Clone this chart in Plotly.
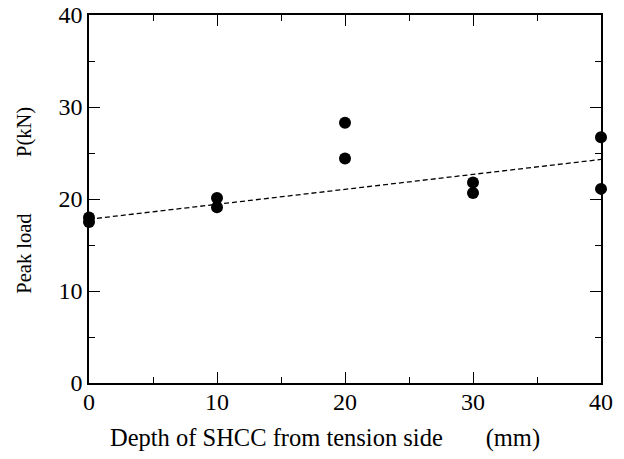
import plotly.graph_objects as go

depth_mm = [0, 0, 10, 10, 20, 20, 30, 30, 40, 40]
peak_load_kN = [18.0, 17.5, 20.1, 19.1, 28.3, 24.4, 21.8, 20.65, 26.7, 21.1]
fit_x = [0, 40]
fit_y = [17.8, 24.3]
x_ticks = [0, 10, 20, 30, 40]
y_ticks = [0, 10, 20, 30, 40]

FONT = "Liberation Serif"
L, R, T, B = 89, 23.3, 15.3, 75.7
PW, PH = 624 - L - R, 459 - T - B

fig = go.Figure()
fig.add_trace(go.Scatter(x=fit_x, y=fit_y, mode="lines",
                         line=dict(color="black", width=1.3, dash="5px,3px"),
                         showlegend=False, hoverinfo="skip"))
fig.add_trace(go.Scatter(x=depth_mm, y=peak_load_kN, mode="markers",
                         marker=dict(color="black", size=12),
                         showlegend=False, cliponaxis=False))

axis_common = dict(showgrid=False, zeroline=False, showline=True, linecolor="black",
                   linewidth=1.5, mirror="allticks", ticks="inside", ticklen=11,
                   tickwidth=1.3, tickcolor="black", automargin=False,
                   tickfont=dict(family=FONT, size=24, color="black"),
                   minor=dict(ticks="inside", ticklen=6, tickwidth=1.3, tickcolor="black", dtick=5))

fig.update_xaxes(range=[0, 40], tickvals=x_ticks, ticktext=[str(v) for v in x_ticks],
                 ticklabelstandoff=-4, **axis_common)
fig.update_yaxes(range=[0, 40], tickvals=y_ticks, ticktext=[str(v) for v in y_ticks],
                 ticklabelstandoff=0, **axis_common)

fig.add_annotation(text="Depth of SHCC from tension side" + "&nbsp;" * 7 + "(mm)",
                   xref="paper", yref="paper", x=(325 - L) / PW, y=-(438 - (459 - B)) / PH,
                   xanchor="center", yanchor="middle", showarrow=False,
                   font=dict(family=FONT, size=24.5, color="black"))
fig.add_annotation(text="Peak load" + "&nbsp;" * 11 + "P(kN)",
                   xref="paper", yref="paper", x=-(L - 25) / PW, y=((459 - B) - 200) / PH,
                   xanchor="center", yanchor="middle", showarrow=False, textangle=-90,
                   font=dict(family=FONT, size=20.5, color="black"))

fig.update_layout(width=624, height=459, margin=dict(l=L, r=R, t=T, b=B, autoexpand=False),
                  paper_bgcolor="white", plot_bgcolor="white")

fig.write_html("out.html", config={"displayModeBar": False},
               post_script="document.body.style.margin='0';document.body.style.overflow='hidden';")
